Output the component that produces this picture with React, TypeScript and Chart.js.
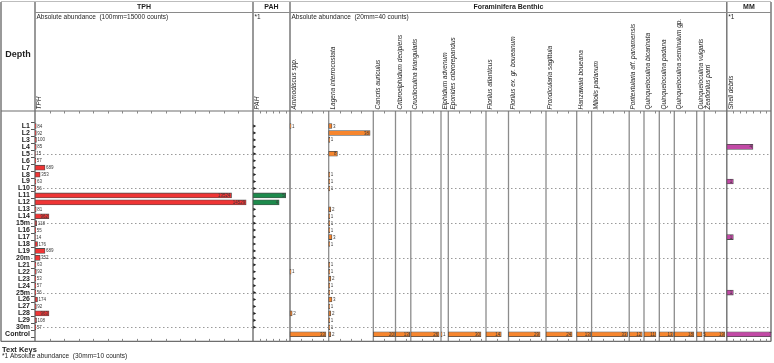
import React, { useEffect, useRef } from "react";
import { Chart, registerables } from "chart.js";
Chart.register(...registerables);

// ---------- data ----------
const depthLabels = [
  "L1", "L2", "L3", "L4", "L5", "L6", "L7", "L8", "L9", "L10",
  "L11", "L12", "L13", "L14", "15m", "L16", "L17", "L18", "L19", "20m",
  "L21", "L22", "L23", "L24", "25m", "L26", "L27", "L28", "L29", "30m",
  "Control",
];

const tphCounts = [
  84, 92, 100, 85, 15, 57, 689, 353, 63, 56,
  13524, 14529, 81, 962, 118, 55, 14, 176, 689, 352,
  63, 92, 53, 57, 56, 174, 92, 963, 108, 57,
  0,
];

// null = no sample marker
const pahCounts = [
  0, 0, 0, 0, 0, 0, 0, 0, 0, 0,
  5, 4, 0, 0, 0, 0, 0, 0, 0, 0,
  0, 0, 0, 0, 0, 0, 0, 0, 0, 0,
  null,
];

const ammodiscus = [
  1, 0, 0, 0, 0, 0, 0, 0, 0, 0,
  0, 0, 0, 0, 0, 0, 0, 0, 0, 0,
  0, 1, 0, 0, 0, 0, 0, 2, 0, 0,
  33,
];
const lagena = [
  3, 38, 1, 0, 8, 0, 0, 1, 1, 1,
  0, 0, 2, 1, 1, 1, 3, 1, 0, 0,
  1, 1, 2, 1, 1, 3, 1, 2, 1, 1,
  2,
];
const cancris = [
  0, 0, 0, 0, 0, 0, 0, 0, 0, 0,
  0, 0, 0, 0, 0, 0, 0, 0, 0, 0,
  0, 0, 0, 0, 0, 0, 0, 0, 0, 0,
  20,
];
const cribroelphidium = [
  0, 0, 0, 0, 0, 0, 0, 0, 0, 0,
  0, 0, 0, 0, 0, 0, 0, 0, 0, 0,
  0, 0, 0, 0, 0, 0, 0, 0, 0, 0,
  13,
];
const cruciloculina = [
  0, 0, 0, 0, 0, 0, 0, 0, 0, 0,
  0, 0, 0, 0, 0, 0, 0, 0, 0, 0,
  0, 0, 0, 0, 0, 0, 0, 0, 0, 0,
  26,
];
const elphidium = [
  0, 0, 0, 0, 0, 0, 0, 0, 0, 0,
  0, 0, 0, 0, 0, 0, 0, 0, 0, 0,
  0, 0, 0, 0, 0, 0, 0, 0, 0, 0,
  1,
];
const eponides = [
  0, 0, 0, 0, 0, 0, 0, 0, 0, 0,
  0, 0, 0, 0, 0, 0, 0, 0, 0, 0,
  0, 0, 0, 0, 0, 0, 0, 0, 0, 0,
  30,
];
const florilusAtl = [
  0, 0, 0, 0, 0, 0, 0, 0, 0, 0,
  0, 0, 0, 0, 0, 0, 0, 0, 0, 0,
  0, 0, 0, 0, 0, 0, 0, 0, 0, 0,
  14,
];
const florilusGr = [
  0, 0, 0, 0, 0, 0, 0, 0, 0, 0,
  0, 0, 0, 0, 0, 0, 0, 0, 0, 0,
  0, 0, 0, 0, 0, 0, 0, 0, 0, 0,
  29,
];
const frondicularia = [
  0, 0, 0, 0, 0, 0, 0, 0, 0, 0,
  0, 0, 0, 0, 0, 0, 0, 0, 0, 0,
  0, 0, 0, 0, 0, 0, 0, 0, 0, 0,
  24,
];
const hanzawaia = [
  0, 0, 0, 0, 0, 0, 0, 0, 0, 0,
  0, 0, 0, 0, 0, 0, 0, 0, 0, 0,
  0, 0, 0, 0, 0, 0, 0, 0, 0, 0,
  13,
];
const miliolis = [
  0, 0, 0, 0, 0, 0, 0, 0, 0, 0,
  0, 0, 0, 0, 0, 0, 0, 0, 0, 0,
  0, 0, 0, 0, 0, 0, 0, 0, 0, 0,
  33,
];
const poritextularia = [
  0, 0, 0, 0, 0, 0, 0, 0, 0, 0,
  0, 0, 0, 0, 0, 0, 0, 0, 0, 0,
  0, 0, 0, 0, 0, 0, 0, 0, 0, 0,
  12,
];
const quinqBicarinata = [
  0, 0, 0, 0, 0, 0, 0, 0, 0, 0,
  0, 0, 0, 0, 0, 0, 0, 0, 0, 0,
  0, 0, 0, 0, 0, 0, 0, 0, 0, 0,
  11,
];
const quinqPadana = [
  0, 0, 0, 0, 0, 0, 0, 0, 0, 0,
  0, 0, 0, 0, 0, 0, 0, 0, 0, 0,
  0, 0, 0, 0, 0, 0, 0, 0, 0, 0,
  13,
];
const quinqSeminulum = [
  0, 0, 0, 0, 0, 0, 0, 0, 0, 0,
  0, 0, 0, 0, 0, 0, 0, 0, 0, 0,
  0, 0, 0, 0, 0, 0, 0, 0, 0, 0,
  18,
];
const quinqVulgaris = [
  0, 0, 0, 0, 0, 0, 0, 0, 0, 0,
  0, 0, 0, 0, 0, 0, 0, 0, 0, 0,
  0, 0, 0, 0, 0, 0, 0, 0, 0, 0,
  5,
];
const zeaflorilus = [
  0, 0, 0, 0, 0, 0, 0, 0, 0, 0,
  0, 0, 0, 0, 0, 0, 0, 0, 0, 0,
  0, 0, 0, 0, 0, 0, 0, 0, 0, 0,
  19,
];
const shellDebris = [
  0, 0, 0, 4, 0, 0, 0, 0, 1, 0,
  0, 0, 0, 0, 0, 0, 1, 0, 0, 0,
  0, 0, 0, 0, 1, 0, 0, 0, 0, 0,
  7,
];

const speciesNames = [
  "Ammodiscus spp.",
  "Lagena interrocostata",
  "Cancris auriculus",
  "Cribroelphidium decipiens",
  "Cruciloculina triangularis",
  "Elphidium advenum",
  "Eponides cribrorepandus",
  "Florilus atlanticus",
  "Florilus ex. gr. boueanum",
  "Frondicularia sagittula",
  "Hanzawaia boueana",
  "Miliolis padanum",
  "Poritextularia aff. panamensis",
  "Quinqueloculina bicarinata",
  "Quinqueloculina padana",
  "Quinqueloculina seminulum gp.",
  "Quinqueloculina vulgaris",
  "Zeaflorilus parri",
];
const speciesCounts = [
  ammodiscus, lagena, cancris, cribroelphidium, cruciloculina, elphidium,
  eponides, florilusAtl, florilusGr, frondicularia, hanzawaia, miliolis,
  poritextularia, quinqBicarinata, quinqPadana, quinqSeminulum, quinqVulgaris,
  zeaflorilus,
];

// ---------- layout (pixels) ----------
const PLOT_LEFT = 35;
const PLOT_RIGHT = 771;
const TOP_Y = 111;
const BOTTOM_Y = 341.4;
const TPH_LEFT = 35;
const PAH_LEFT = 253;
const FORAM_LEFT = 290;
const MM_LEFT = 726.8;
const speciesLeft = [
  290, 328.7, 373.3, 395.5, 410.8, 441, 448.3, 486, 508.5, 546,
  576.7, 591.6, 629.2, 644, 659.3, 674.3, 696.7, 704.2,
];
const TPH_PER_COUNT = 218 / 15000; // 100mm = 15000 counts
const PAH_PER_COUNT = 6.54; // 30mm = 10 counts
const FORAM_PER_COUNT = 1.09; // 20mm = 40 counts
const MM_PER_COUNT = 6.54;

const FONT = "'Liberation Sans', Arial, sans-serif";
const RED = "#ef3535";
const GREEN = "#1d8a4c";
const ORANGE = "#f7862e";
const MAGENTA = "#c24aa6";

const u = (px: number) => px - PLOT_LEFT; // pixel -> x scale units

function barSet(label: string, counts: (number | null)[], leftPx: number, k: number, color: string) {
  const off = u(leftPx);
  const data = counts
    .map((v, i) => ({ v, i }))
    .filter((d) => d.v !== null && (d.v as number) > 0)
    .map((d) => ({ x: [off, off + (d.v as number) * k], y: d.i, v: d.v }));
  return {
    label,
    type: "bar",
    data,
    backgroundColor: color,
    borderColor: "#4d4d4d",
    borderWidth: 0.8,
    borderSkipped: false,
    barThickness: 5,
    grouped: false,
  };
}

const overlay = {
  id: "overlay",
  beforeDatasetsDraw(chart: any) {
    const ctx = chart.ctx as CanvasRenderingContext2D;
    const xs = chart.scales.x;
    const ys = chart.scales.y;
    const X = (px: number) => xs.getPixelForValue(u(px));
    ctx.save();
    // dotted depth lines every 5 samples
    ctx.strokeStyle = "#9a9a9a";
    ctx.lineWidth = 1;
    ctx.setLineDash([1.5, 2.5]);
    depthLabels.forEach((_, i) => {
      if (i % 5 !== 4) return;
      const y = Math.round(ys.getPixelForValue(i)) + 0.5;
      ctx.beginPath();
      ctx.moveTo(31, y);
      ctx.lineTo(PLOT_RIGHT, y);
      ctx.stroke();
    });
    ctx.setLineDash([]);
    // species zero lines
    ctx.strokeStyle = "#8c8c8c";
    ctx.lineWidth = 1.3;
    speciesLeft.forEach((px, i) => {
      if (i === 0) return;
      ctx.beginPath();
      ctx.moveTo(X(px), TOP_Y);
      ctx.lineTo(X(px), BOTTOM_Y);
      ctx.stroke();
    });
    // frame
    ctx.strokeStyle = "#6e6e6e";
    ctx.lineWidth = 1.4;
    [1, TPH_LEFT, PAH_LEFT, FORAM_LEFT, MM_LEFT, PLOT_RIGHT].forEach((px) => {
      ctx.beginPath();
      ctx.moveTo(px, 2);
      ctx.lineTo(px, BOTTOM_Y);
      ctx.stroke();
    });
    ctx.lineWidth = 1;
    ctx.strokeStyle = "#bdbdbd";
    ctx.beginPath();
    ctx.moveTo(1, 1.5);
    ctx.lineTo(PLOT_RIGHT, 1.5);
    ctx.stroke();
    ctx.strokeStyle = "#8a8a8a";
    ctx.beginPath();
    ctx.moveTo(TPH_LEFT, 12.5);
    ctx.lineTo(PLOT_RIGHT, 12.5);
    ctx.stroke();
    ctx.strokeStyle = "#6e6e6e";
    ctx.lineWidth = 1.2;
    [TOP_Y, BOTTOM_Y].forEach((y) => {
      ctx.beginPath();
      ctx.moveTo(1, y);
      ctx.lineTo(PLOT_RIGHT, y);
      ctx.stroke();
    });
    // scale ticks on top & bottom axis lines
    ctx.strokeStyle = "#888";
    ctx.lineWidth = 1;
    const tick = (px: number) => {
      const x = Math.round(px) + 0.5;
      ctx.beginPath();
      ctx.moveTo(x, TOP_Y);
      ctx.lineTo(x, TOP_Y + 2.5);
      ctx.moveTo(x, BOTTOM_Y);
      ctx.lineTo(x, BOTTOM_Y - 2.5);
      ctx.stroke();
    };
    for (let c = 1000; TPH_LEFT + c * TPH_PER_COUNT < PAH_LEFT - 1; c += 1000) tick(X(TPH_LEFT + c * TPH_PER_COUNT));
    for (let c = 1; PAH_LEFT + c * PAH_PER_COUNT < FORAM_LEFT - 1; c += 1) tick(X(PAH_LEFT + c * PAH_PER_COUNT));
    speciesLeft.forEach((px, i) => {
      const right = i + 1 < speciesLeft.length ? speciesLeft[i + 1] : MM_LEFT;
      for (let c = 10; px + c * FORAM_PER_COUNT < right - 1; c += 10) tick(X(px + c * FORAM_PER_COUNT));
    });
    for (let c = 1; MM_LEFT + c * MM_PER_COUNT < PLOT_RIGHT - 1; c += 1) tick(X(MM_LEFT + c * MM_PER_COUNT));
    ctx.restore();
  },
  afterDatasetsDraw(chart: any) {
    const ctx = chart.ctx as CanvasRenderingContext2D;
    const xs = chart.scales.x;
    const ys = chart.scales.y;
    ctx.save();
    // sample markers on PAH axis
    ctx.fillStyle = "#222";
    pahCounts.forEach((v, i) => {
      if (v !== 0) return;
      const x = xs.getPixelForValue(u(PAH_LEFT));
      const y = ys.getPixelForValue(i);
      ctx.beginPath();
      ctx.moveTo(x + 0.3, y - 1.6);
      ctx.lineTo(x + 3.2, y);
      ctx.lineTo(x + 0.3, y + 1.6);
      ctx.closePath();
      ctx.fill();
    });
    // value labels
    ctx.font = `4.5px ${FONT}`;
    ctx.fillStyle = "#3a3a3a";
    ctx.textBaseline = "middle";
    chart.data.datasets.forEach((ds: any, di: number) => {
      const meta = chart.getDatasetMeta(di);
      meta.data.forEach((el: any, j: number) => {
        const d = ds.data[j];
        const txt = String(d.v);
        const w = ctx.measureText(txt).width;
        const len = el.x - el.base;
        if (len >= w + 3) {
          ctx.textAlign = "right";
          ctx.fillText(txt, el.x - 1, el.y + 0.3);
        } else {
          ctx.textAlign = "left";
          ctx.fillText(txt, el.x + 1, el.y + 0.3);
        }
      });
    });
    ctx.restore();
  },
  afterDraw(chart: any) {
    const ctx = chart.ctx as CanvasRenderingContext2D;
    ctx.save();
    ctx.fillStyle = "#1e1e1e";
    ctx.textBaseline = "middle";
    ctx.textAlign = "center";
    ctx.font = `bold 9px ${FONT}`;
    ctx.fillText("Depth", 18, 55);
    ctx.font = `bold 7px ${FONT}`;
    ctx.fillText("TPH", (TPH_LEFT + PAH_LEFT) / 2, 7);
    ctx.fillText("PAH", (PAH_LEFT + FORAM_LEFT) / 2, 7);
    ctx.fillText("Foraminifera Benthic", (FORAM_LEFT + MM_LEFT) / 2, 7);
    ctx.fillText("MM", (MM_LEFT + PLOT_RIGHT) / 2, 7);
    ctx.textAlign = "left";
    ctx.textBaseline = "top";
    ctx.font = `6.5px ${FONT}`;
    ctx.fillText("Absolute abundance  (100mm=15000 counts)", TPH_LEFT + 1.5, 13.5);
    ctx.fillText("*1", PAH_LEFT + 1.5, 13.5);
    ctx.fillText("Absolute abundance  (20mm=40 counts)", FORAM_LEFT + 1.5, 13.5);
    ctx.fillText("*1", MM_LEFT + 1.5, 13.5);
    // rotated column titles
    ctx.font = `italic 6.5px ${FONT}`;
    const rot = (txt: string, px: number) => {
      ctx.save();
      ctx.translate(px + 1.2, 109.5);
      ctx.rotate(-Math.PI / 2);
      ctx.textAlign = "left";
      ctx.textBaseline = "top";
      ctx.fillText(txt, 0, 0);
      ctx.restore();
    };
    rot("TPH", TPH_LEFT);
    rot("PAH", PAH_LEFT);
    speciesNames.forEach((n, i) => rot(n, speciesLeft[i]));
    rot("Shell debris", MM_LEFT);
    // footer
    ctx.textBaseline = "middle";
    ctx.font = `bold 7.5px ${FONT}`;
    ctx.fillText("Text Keys", 2, 349.5);
    ctx.font = `6.5px ${FONT}`;
    ctx.fillText("*1 Absolute abundance  (30mm=10 counts)", 2, 356.5);
    ctx.restore();
  },
};

export default function App() {
  const ref = useRef<HTMLCanvasElement | null>(null);
  useEffect(() => {
    if (!ref.current) return;
    const datasets: any[] = [
      barSet("TPH", tphCounts, TPH_LEFT, TPH_PER_COUNT, RED),
      barSet("PAH", pahCounts, PAH_LEFT, PAH_PER_COUNT, GREEN),
      ...speciesNames.map((n, i) => barSet(n, speciesCounts[i], speciesLeft[i], FORAM_PER_COUNT, ORANGE)),
      barSet("Shell debris", shellDebris, MM_LEFT, MM_PER_COUNT, MAGENTA),
    ];
    const chart = new Chart(ref.current, {
      type: "bar",
      data: { datasets },
      options: {
        indexAxis: "y",
        animation: false,
        responsive: false,
        events: [],
        layout: { padding: { top: TOP_Y, bottom: 363 - BOTTOM_Y, left: 0, right: 774 - PLOT_RIGHT } },
        plugins: { legend: { display: false }, tooltip: { enabled: false } },
        scales: {
          x: { type: "linear", min: 0, max: PLOT_RIGHT - PLOT_LEFT, display: false },
          y: {
            type: "linear",
            min: -1.63,
            max: 30.5,
            reverse: true,
            bounds: "data",
            position: "left",
            afterFit: (s: any) => {
              s.width = PLOT_LEFT;
            },
            afterBuildTicks: (s: any) => {
              s.ticks = depthLabels.map((_, i) => ({ value: i }));
            },
            ticks: {
              autoSkip: false,
              padding: 1,
              color: "#1e1e1e",
              font: { family: FONT, size: 7, weight: "bold" },
              callback: (v: any) => depthLabels[v as number] ?? "",
            },
            grid: { drawOnChartArea: false, drawTicks: true, tickLength: 4, color: "#555", lineWidth: 1 },
            border: { display: false },
          },
        },
      } as any,
      plugins: [overlay as any],
    });
    return () => chart.destroy();
  }, []);
  return (
    <div style={{ position: "fixed", left: 0, top: 0, width: 774, height: 363, background: "#fff" }}>
      <canvas ref={ref} width={774} height={363} style={{ display: "block" }} />
    </div>
  );
}
